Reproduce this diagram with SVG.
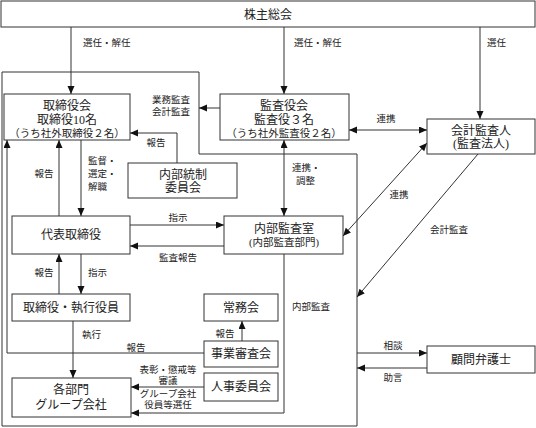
<svg xmlns="http://www.w3.org/2000/svg" width="536" height="428" viewBox="0 0 536 428">
<style>
.box{fill:#fff;stroke:#333;stroke-width:1}
.t{font-family:"Liberation Serif","Noto Sans CJK JP",serif;font-size:12px;fill:#222;text-anchor:middle;dominant-baseline:central}
.s{font-size:10.5px}
.l{font-family:"Liberation Serif","Noto Sans CJK JP",serif;font-size:9.5px;fill:#222;text-anchor:middle;dominant-baseline:central}
.st{text-anchor:start}
.c{fill:none;stroke:#333;stroke-width:1}
.a{marker-end:url(#ah)}
.d{marker-start:url(#ah);marker-end:url(#ah)}
</style>
<defs>
<marker id="ah" markerUnits="userSpaceOnUse" markerWidth="9" markerHeight="8" refX="8" refY="3.5" orient="auto-start-reverse">
<path d="M0,0 L8,3.5 L0,7 z" fill="#111"/>
</marker>
</defs>
<path id="frame" class="c" d="M2,72 H199 V154 H357 V426 H2 Z"/>
<g id="connectors">
<line class="c a" x1="71" y1="27" x2="71" y2="94"/>
<line class="c a" x1="284" y1="27" x2="284" y2="94"/>
<line class="c a" x1="480" y1="27" x2="480" y2="119"/>
<line class="c a" x1="220" y1="108" x2="199" y2="108"/>
<line class="c d" x1="349" y1="130" x2="427" y2="130"/>
<path class="c a" d="M177,163 V133 H130"/>
<line class="c a" x1="59" y1="216" x2="59" y2="140"/>
<line class="c a" x1="81" y1="140" x2="81" y2="216"/>
<line class="c d" x1="284" y1="140" x2="284" y2="216"/>
<line class="c a" x1="130" y1="225" x2="224" y2="225"/>
<line class="c a" x1="224" y1="246" x2="130" y2="246"/>
<line class="c d" x1="343" y1="236" x2="427" y2="143"/>
<line class="c a" x1="478" y1="154" x2="357" y2="297"/>
<line class="c a" x1="59" y1="294" x2="59" y2="254"/>
<line class="c a" x1="81" y1="254" x2="81" y2="294"/>
<line class="c a" x1="73" y1="321" x2="73" y2="378"/>
<path class="c a" d="M204,353 H7 V140"/>
<line class="c a" x1="242" y1="341" x2="242" y2="321"/>
<line class="c a" x1="204" y1="387" x2="131" y2="387"/>
<path class="c a" d="M284,254 V413 H131"/>
<line class="c a" x1="357" y1="353" x2="427" y2="353"/>
<line class="c a" x1="427" y1="368" x2="357" y2="368"/>
<g id="labels">
<text class="l st" x="83" y="43">選任・解任</text>
<text class="l st" x="294" y="43">選任・解任</text>
<text class="l st" x="487" y="43">選任</text>
<text class="l" x="171" y="100">業務監査</text>
<text class="l" x="171" y="112">会計監査</text>
<text class="l" x="386" y="119">連携</text>
<text class="l" x="156" y="143">報告</text>
<text class="l" x="44" y="174">報告</text>
<text class="l st" x="88" y="161">監督・</text>
<text class="l st" x="88" y="174">選定・</text>
<text class="l st" x="88" y="187">解職</text>
<text class="l st" x="292" y="168">連携・</text>
<text class="l st" x="296" y="181">調整</text>
<text class="l" x="178" y="218">指示</text>
<text class="l" x="178" y="258">監査報告</text>
<text class="l" x="399" y="195">連携</text>
<text class="l" x="449" y="230">会計監査</text>
<text class="l" x="44" y="273">報告</text>
<text class="l st" x="88" y="273">指示</text>
<text class="l st" x="82" y="335">執行</text>
<text class="l" x="136" y="348">報告</text>
<text class="l" x="225" y="334">報告</text>
<text class="l" x="311" y="307">内部監査</text>
<text class="l" x="168" y="370">表彰・懲戒等</text>
<text class="l" x="168" y="381">審議</text>
<text class="l" x="168" y="394">グループ会社</text>
<text class="l" x="168" y="405">役員等選任</text>
<text class="l" x="393" y="346">相談</text>
<text class="l" x="393" y="378">助言</text>
</g>
</g>
<g id="n-shareholders"><rect class="box" x="1" y="1" width="534" height="26"/><text class="t" x="268" y="15">株主総会</text></g>
<g id="n-board"><rect class="box" x="4" y="94" width="126" height="46"/><text class="t" x="67" y="106">取締役会</text><text class="t" x="67" y="120">取締役10名</text><text class="t s" x="67" y="133">（うち社外取締役２名）</text></g>
<g id="n-auditors"><rect class="box" x="220" y="94" width="129" height="46"/><text class="t" x="284" y="106">監査役会</text><text class="t" x="284" y="120">監査役３名</text><text class="t s" x="284" y="133">（うち社外監査役２名）</text></g>
<g id="n-accounting"><rect class="box" x="427" y="119" width="108" height="35"/><text class="t" x="481" y="131">会計監査人</text><text class="t" x="481" y="144">(監査法人)</text></g>
<g id="n-internal-control"><rect class="box" x="128" y="163" width="109" height="35"/><text class="t" x="183" y="175">内部統制</text><text class="t" x="183" y="188">委員会</text></g>
<g id="n-ceo"><rect class="box" x="12" y="216" width="118" height="38"/><text class="t" x="71" y="235">代表取締役</text></g>
<g id="n-internal-audit"><rect class="box" x="224" y="216" width="119" height="38"/><text class="t" x="284" y="229">内部監査室</text><text class="t s" x="284" y="242">(内部監査部門)</text></g>
<g id="n-officers"><rect class="box" x="12" y="294" width="118" height="27"/><text class="t" x="71" y="308">取締役・執行役員</text></g>
<g id="n-executive"><rect class="box" x="204" y="294" width="74" height="27"/><text class="t" x="241" y="308">常務会</text></g>
<g id="n-business-review"><rect class="box" x="204" y="341" width="74" height="26"/><text class="t" x="241" y="354">事業審査会</text></g>
<g id="n-hr"><rect class="box" x="204" y="373" width="74" height="28"/><text class="t" x="241" y="387">人事委員会</text></g>
<g id="n-departments"><rect class="box" x="12" y="378" width="119" height="39"/><text class="t" x="71" y="390">各部門</text><text class="t" x="71" y="405">グループ会社</text></g>
<g id="n-lawyer"><rect class="box" x="427" y="346" width="108" height="27"/><text class="t" x="481" y="360">顧問弁護士</text></g>
</svg>
